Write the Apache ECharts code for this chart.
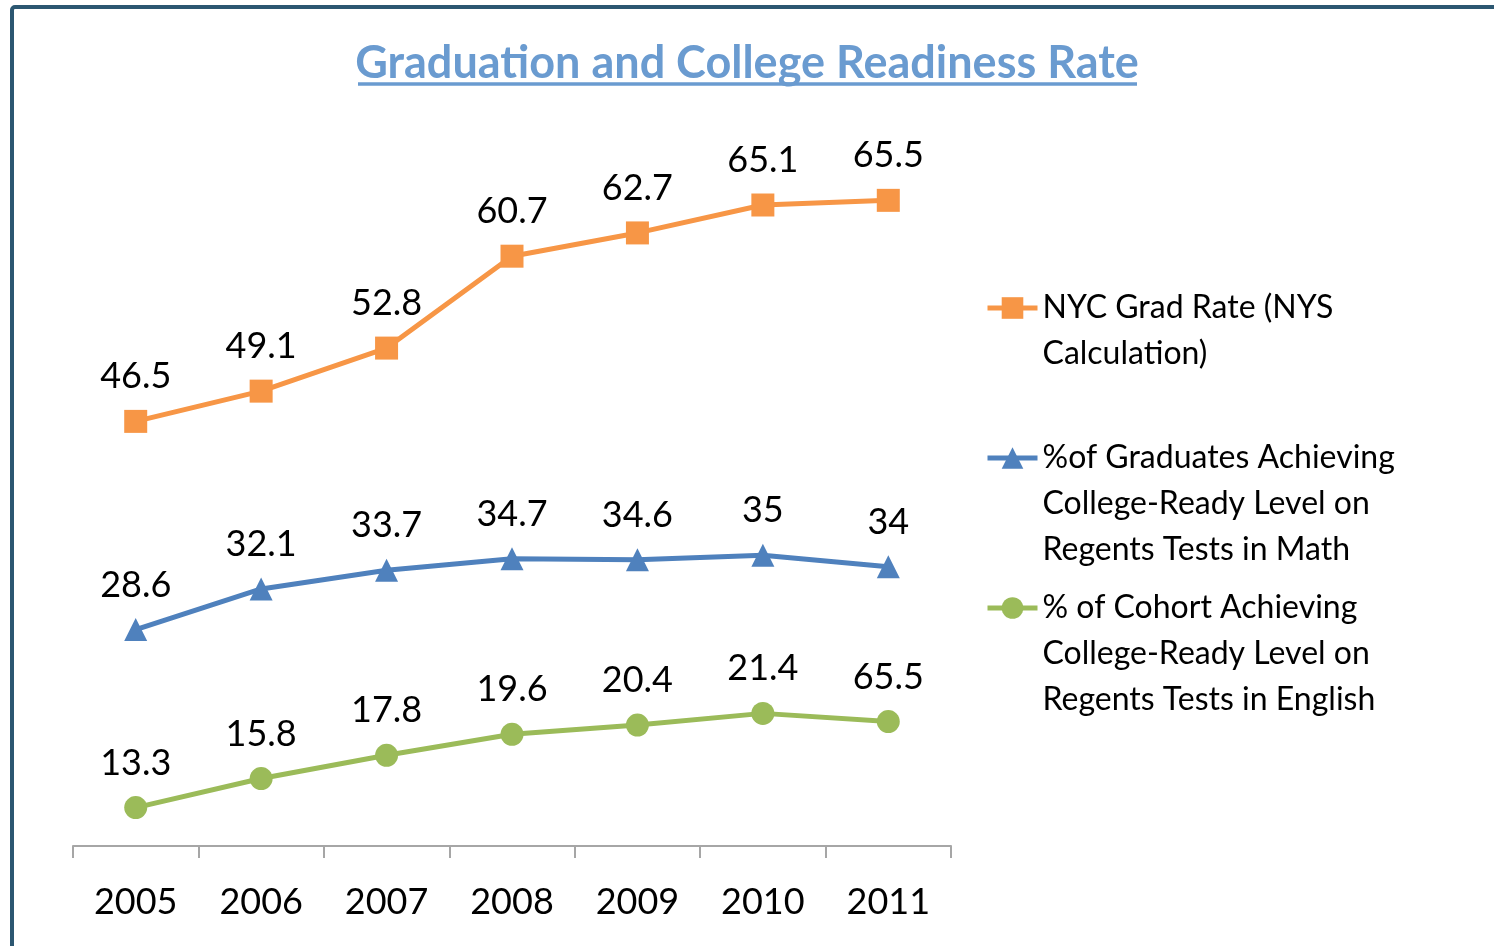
<!DOCTYPE html>
<html>
<head>
<meta charset="utf-8">
<title>Graduation and College Readiness Rate</title>
<script src="https://cdn.jsdelivr.net/npm/echarts@6/dist/echarts.min.js"></script>
<style>
    html, body { margin: 0; padding: 0; background: #fff; }
    #chart { width: 1494px; height: 946px; }
</style>
</head>
<body>
<div id="chart"></div>
<script>
var years = ['2005', '2006', '2007', '2008', '2009', '2010', '2011'];
var gradRate = [46.5, 49.1, 52.8, 60.7, 62.7, 65.1, 65.5];
var mathReady = [28.6, 32.1, 33.7, 34.7, 34.6, 35, 34];
var englishReady = [13.3, 15.8, 17.8, 19.6, 20.4, 21.4, 20.7];
// labels as printed on the original (last point is labelled 65.5)
var englishLabels = ['13.3', '15.8', '17.8', '19.6', '20.4', '21.4', '65.5'];

var seriesNames = [
    'NYC Grad Rate (NYS\nCalculation)',
    '%of Graduates Achieving\nCollege-Ready Level on\nRegents Tests in Math',
    '% of Cohort Achieving\nCollege-Ready Level on\nRegents Tests in English'
];
var legendLines = [2, 3, 3];
var legendTops = [239, 343, 493];

var FONT = 'Lato';
var LEGEND_LH = 46;

function makeSeries(name, values, color, symbol, labels) {
    return {
        name: name,
        type: 'line',
        data: values,
        symbol: symbol,
        symbolSize: 23,
        lineStyle: { color: color, width: 5 },
        itemStyle: { color: color },
        label: {
            show: true,
            position: 'top',
            distance: 15,
            fontFamily: FONT,
            fontSize: 36,
            color: '#000',
            formatter: function (p) {
                return labels ? labels[p.dataIndex] : String(p.value);
            }
        },
        emphasis: { disabled: true },
        animation: false
    };
}

// blank lines in front keep the icon level with the first text line
function blankLines(n) {
    return new Array(n).join('\n');
}

var chart = echarts.init(document.getElementById('chart'));

chart.setOption({
    backgroundColor: '#fff',
    title: {
        text: 'Graduation and College Readiness Rate',
        left: 'center',
        top: 36,
        textStyle: { fontFamily: FONT, fontSize: 45, fontWeight: 'bold', color: '#6A9BD0' }
    },
    legend: seriesNames.map(function (n, i) {
        return {
            data: [n],
            left: 985,
            top: legendTops[i],
            padding: 0,
            itemWidth: 50,
            itemHeight: 27,
            selectedMode: false,
            lineStyle: { width: 5 },
            formatter: function (name) {
                return blankLines(legendLines[i]) + name;
            },
            textStyle: {
                fontFamily: FONT,
                fontSize: 32,
                color: '#000',
                lineHeight: LEGEND_LH
            }
        };
    }),
    grid: { left: 73, right: 543, top: 148, bottom: 100 },
    xAxis: {
        type: 'category',
        data: years,
        boundaryGap: true,
        axisLine: { lineStyle: { color: '#A6A6A6', width: 2 } },
        axisTick: { show: true, length: 12, lineStyle: { color: '#A6A6A6', width: 2 } },
        axisLabel: { fontFamily: FONT, fontSize: 36, color: '#000', margin: 38 }
    },
    yAxis: {
        type: 'value',
        min: 10,
        max: 70,
        show: false,
        splitLine: { show: false }
    },
    series: [
        makeSeries(seriesNames[0], gradRate, '#F79646', 'rect'),
        makeSeries(seriesNames[1], mathReady, '#4F81BD', 'triangle'),
        makeSeries(seriesNames[2], englishReady, '#9BBB59', 'circle', englishLabels)
    ],
    graphic: [
        {
            type: 'rect',
            shape: { x: 12, y: 7, width: 1600, height: 1100, r: 3 },
            style: { fill: 'none', stroke: '#2C5771', lineWidth: 4 },
            silent: true
        },
        {
            type: 'line',
            shape: { x1: 358, y1: 84, x2: 1137, y2: 84 },
            style: { stroke: '#6A9BD0', lineWidth: 3.5 },
            silent: true
        }
    ]
});
</script>
</body>
</html>
